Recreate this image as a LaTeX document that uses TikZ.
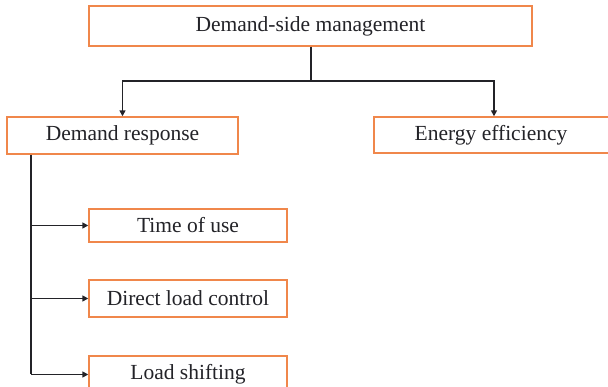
\documentclass[tikz,border=0pt]{standalone}
\usepackage{fontspec}
\setmainfont{Liberation Serif}
\usetikzlibrary{arrows.meta}
\definecolor{boxorange}{RGB}{240,135,75}
\definecolor{linedark}{RGB}{35,35,40}
\tikzset{
  box/.style={draw=boxorange, line width=1.4pt, fill=white, inner sep=0pt, text=linedark,
    font=\fontsize{21.5}{24}\selectfont},
  conn/.style={draw=linedark, line width=1.5pt},
  arr/.style={conn, -{Triangle[length=6pt,width=6pt]}}
}
\begin{document}
\begin{tikzpicture}[x=1pt,y=-1pt]
\useasboundingbox (0,0) rectangle (608,387);
\clip (0,0) rectangle (608,387);
\node[box, minimum width=443pt, minimum height=40pt] (dsm) at (310.5,26) {Demand-side management};
\node[box, minimum width=231pt, minimum height=37pt] (dr) at (122.5,135.5) {Demand response};
\node[box, minimum width=238pt, minimum height=36pt] (ee) at (493,135) {\hspace*{-4pt}Energy efficiency};
\node[box, minimum width=198pt, minimum height=33pt] (tou) at (188,225.5) {\raisebox{2pt}{Time of use}};
\node[box, minimum width=198pt, minimum height=37pt] (dlc) at (188,298.5) {Direct load control};
\node[box, minimum width=198pt, minimum height=37pt] (ls) at (188,374.5) {\raisebox{4pt}{Load shifting}};
\coordinate (split) at (311,81);
\coordinate (trunk) at (31,154);
\draw[conn] (dsm.south -| split) -- (split);
\draw[arr] (split) -| (dr.north);
\draw[arr] (split) -| ([xshift=1pt]ee.north);
\draw[conn] (dr.south -| trunk) -- (trunk |- ls.west);
\draw[arr] (trunk |- tou.west) -- (tou.west);
\draw[arr] (trunk |- dlc.west) -- (dlc.west);
\draw[arr] (trunk |- ls.west) -- (ls.west);
\end{tikzpicture}
\end{document}
